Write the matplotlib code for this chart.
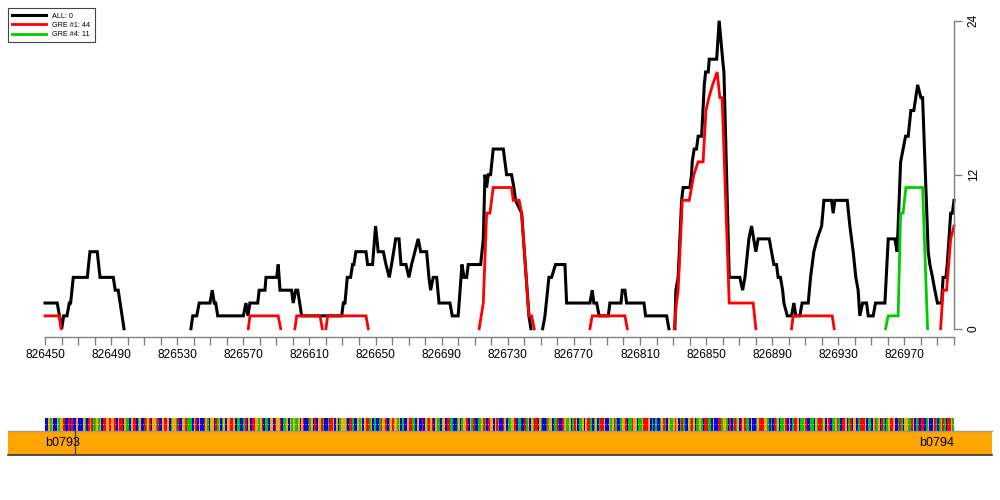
import numpy as np
import matplotlib
matplotlib.use('Agg')
import matplotlib.pyplot as plt
from matplotlib.patches import Rectangle
import matplotlib.transforms as mtransforms

plt.rcParams['font.family'] = ['Liberation Sans', 'DejaVu Sans']

START, END = 826450, 827000
N = None

# ---- coverage series (position offset from START, value); None = gap ----
all_pos = [0, 7.4, 10.1, 11.3, 13.3, 14.7, 15.5, 17.1, 25.6, 27.2, 31.6, 33.3, 41.3, 42.5, 44.3, 47.8, N,
           88.3, 89.4, 91.8, 93.3, 99.8, 101.2, 102.4, 103.3, 104.5, 120, 121.6, 122.8, 124, 128.7, 129.6,
           133.1, 133.7, 140.2, 141.1, 142.2, 149.2, 150.2, 151.7, 152.9, 155.3, 179.5, 180.5, 181.5, 182.9,
           184.9, 186.1, 186.9, 188.1, 194.2, 195.2, 198.2, 200, 201.6, 204.7, 206.3, 208.3, 209.7, 212.2,
           214.2, 215.4, 218.4, 220.2, 221.8, 223.8, 225.8, 227.3, 230.9, 232.3, 233.3, 234.9, 237, 238.4,
           245, 246.4, 250, 252.3, 253.5, 255.1, 256.1, 263.6, 265.2, 266.2, 267.2, 268.2, 269.6, 271.2,
           277.3, 279.3, 282.3, 283.7, 284.7, 288.4, 292.8, 294, N,
           301.1, 302.5, 304.9, 306.5, 308.9, 314.6, 315.6, 329.7, 331.1, 332.1, 333.8, 335.3, 340.8, 341.8,
           348.5, 349.3, 350.9, 351.9, 362.4, 363.4, 376.1, 377.5, N,
           381.1, 381.7, 383.1, 385.2, 386.1, 390.2, 391.2, 391.6, 392.8, 394.2, 395.2, 397.3, 398.9, 399.7,
           401.3, 401.9, 406.4, 407.9, 410, 410.8, 414, 420.4, 422.1, 423.5, 425.9, 427.5, 430.1, 431.5,
           438.2, 439.6, 441, 442.6, 443.6, 445, 446.3, 447.1, 449.1, 451.7, 453.1, 454.3, 456.7, 458.1,
           461.8, 463.2, 465.2, 467.2, 469.9, 471.3, 475.9, 476.9, 477.9, 485.4, 487, 489, 490.6, 492, 493,
           494.7, 497.1, 498.1, 501.1, 502.5, 508.2, 510.2, 514.2, 515.6, 517.7, 519.2, 520.7, 522.3, 523.9,
           525.7, 528, 530, 531, 534.4, 535.4, 537, 538.4, 540, 542.5, 543.4, 545.1, 545.9, 548, 549, 550]
all_val = [2, 2, 0, 1, 1, 2, 2, 4, 4, 6, 6, 4, 4, 3, 3, 0, N,
           0, 1, 1, 2, 2, 3, 2, 2, 1, 1, 2, 1, 2, 2, 3,
           3, 4, 4, 5, 3, 3, 2, 3, 3, 1, 1, 2, 2, 4,
           4, 5, 5, 6, 6, 5, 5, 8, 6, 6, 5, 4, 5, 7,
           7, 5, 5, 4, 5, 6, 7, 6, 6, 4, 3, 4, 4, 2,
           2, 1, 1, 5, 4, 4, 5, 5, 7, 12, 11, 12, 12, 14,
           14, 12, 12, 11, 10, 9, 1, 0, N,
           0, 1, 4, 4, 5, 5, 2, 2, 3, 2, 2, 1, 1, 2,
           2, 3, 3, 2, 2, 1, 1, 0, N,
           0, 3, 4, 10, 11, 11, 12, 13, 14, 14, 15, 15, 19, 20,
           20, 21, 21, 24, 21, 20, 4, 4, 3, 4, 7, 8, 6, 7,
           7, 6, 5, 5, 4, 4, 3, 2, 1, 1, 2, 1, 1, 2,
           2, 4, 6, 7, 8, 10, 10, 9, 10, 10, 8, 6, 4, 3, 1,
           2, 2, 1, 1, 2, 2, 7, 7, 6, 13, 14, 15, 15, 17,
           17, 19, 18, 18, 6, 5, 4, 3, 2, 2, 4, 4, 5, 9, 9, 10]

gre1_pos = [0, 8.7, 9.7, N,
            123, 124, 141.1, 142.6, N,
            151.2, 152.3, 166.4, 167.8, N,
            170, 171, 194.2, 195.6, N,
            262.7, 265.2, 267.2, 269.2, 271.2, 282.3, 283.3, 286.9, 288.4, 292.8, 294.4, 296, N,
            329.7, 331.1, 350.9, 352.3, N,
            380.7, 382.1, 383.1, 385.6, 389.8, 391.2, 392.6, 395.2, 398.2, 399.9, 401.7, 403.9, 406.7,
            408.3, 409.7, 414, 428.5, 430.1, N,
            451.7, 452.7, 476.3, 477.5, N,
            541.9, 543.4, 545.5, 548, 550]
gre1_val = [1, 1, 0, N,
            0, 1, 1, 0, N,
            0, 1, 1, 0, N,
            0, 1, 1, 0, N,
            0, 2, 9, 9, 11, 11, 10, 10, 9, 1, 1, 0, N,
            0, 1, 1, 0, N,
            0, 2, 3, 10, 10, 11, 12, 13, 13, 17, 18, 19, 20,
            18, 18, 2, 2, 0, N,
            0, 1, 1, 0, N,
            0, 3, 3, 7, 8]

gre4_pos = [508.6, 510.2, 516.2, 517.7, 519.2, 520.9, 531, 534]
gre4_val = [0, 1, 1, 9, 9, 11, 11, 0]

series_names = ['ALL', 'GRE #1', 'GRE #4']
series_counts = [0, 44, 11]
series_colors = ['#000000', '#FF0000', '#00CD00']
series_widths = [2.2, 2.0, 2.0]

y_ticks = [0, 12, 24]

# ---- sequence & genes ----
seq_groups = [
    "CCGAGCCGAG", "GTCCTCTCCG", "CCCGACTGTA", "AGAGCTTGGT", "GGTCGTTCGA",
    "ACGTTCAGCC", "TAGTCGGATC", "CGTTGCAGGA", "TCCGGTAAAC", "GTCGCCTGAC",
    "GGCTAGCAGC", "GGTTGCAACC", "ATCGCTTGGA", "GTCAACGGCT", "GGTCAAGCGA",
    "GAAGCGTCCT", "AGCTCGGTAC", "CATTGCGCAG", "GGACTTACCG", "AGCGTTAGCA",
    "CCATGGTCAG", "TGGAGCACCG", "TTAACGCCTC", "GATGTCGAAC", "GGCTTAACCA",
    "GCAGGTCGAT", "CCAAGTACTG", "GCGTACCTGC", "AAGGTCAACC", "TAGCGATTCG",
    "ACCTAGGCAA", "TCCTGAAGCA", "TGCAAGCGTT", "ACAGCATTGC", "CGAGTACCAG",
    "GTCAATGGCA", "AGTTTGCACA", "CCAGTACGAA", "GTGCATACCG", "ATGCAAGACT",
    "TAACGCCTTA", "GGACTCATAG", "CTGTAACGCC", "AGTTTGGACA", "CTAGCAAGTC",
    "GCATTGCAAG", "TCCAACGATT", "AGCGTCAAGT", "ACTTGCATCG", "GCATTTGCAA",
    "CGTAGCTACA", "GTTGCCATAC", "GGAATGCATC", "TTCAGCCGTA", "CAGTACTTGA",
]
base_colors = {'A': '#00C800', 'C': '#0000FF', 'G': '#FFA500', 'T': '#FF0000'}
gene_names = ['b0793', 'b0794']
gene_boundary = 826468

# ---------------------------------------------------------------
fig = plt.figure(figsize=(10, 5), dpi=100)
ax = fig.add_axes([0.045, 1 - 328.7 / 500, 0.909, 308 / 500])
ax.set_xlim(START, END)
ax.set_ylim(0, 24)

series = [(all_pos, all_val), (gre1_pos, gre1_val), (gre4_pos, gre4_val)]
handles = []
for (p, v), name, cnt, col, lw in zip(series, series_names, series_counts, series_colors, series_widths):
    x = START + np.array(p, dtype=float)
    y = np.array(v, dtype=float)
    h, = ax.plot(x, y, color=col, lw=lw, clip_on=False, solid_joinstyle='miter',
                 label=f'{name}: {cnt}')
    handles.append(h)

for s in ['top', 'left']:
    ax.spines[s].set_visible(False)
ax.spines['bottom'].set_position(('outward', 5.76))
for s in ['bottom', 'right']:
    ax.spines[s].set_color('#808080')
    ax.spines[s].set_linewidth(1)

xt = np.arange(START, END + 1, 10)
ax.set_xticks(xt)
ax.set_xticklabels([str(t) if (t - START) % 40 == 0 else '' for t in xt])
ax.tick_params(axis='x', direction='out', length=5.8, width=1, color='#808080',
               pad=2.9, labelsize=8.6)
ax.yaxis.tick_right()
ax.set_yticks(y_ticks)
ax.set_yticklabels([str(t) for t in y_ticks], rotation=90, va='center')
ax.tick_params(axis='y', direction='out', length=5.8, width=1, color='#808080',
               pad=4, labelsize=8.6)

leg = fig.legend(handles=handles, loc='upper left', bbox_to_anchor=(0.008, 1 - 8.3 / 500),
                 bbox_transform=fig.transFigure, fontsize=5.2, handlelength=4.7,
                 handletextpad=0.8, labelspacing=0.3, borderpad=0.6, borderaxespad=0,
                 frameon=True, fancybox=False, edgecolor='#444444', framealpha=1)
leg.get_frame().set_linewidth(0.8)

# ---- bottom track ----
ax2 = fig.add_axes([0.045, 1 - 455 / 500, 0.909, 37 / 500])
ax2.set_xlim(START, END)
ax2.set_ylim(0, 37)
ax2.axis('off')

seq = ''.join(seq_groups)[:END - START]
cols = [base_colors[b] for b in seq]
ax2.bar(START + np.arange(len(seq)), 13, width=1, bottom=24, color=cols,
        align='edge', linewidth=0)
ax2.plot([START, START + len(seq)], [31, 31], color='white', lw=0.6, ls=(0, (1, 2)), alpha=0.8)

trans = mtransforms.blended_transform_factory(fig.transFigure, ax2.transData)
ax2.add_patch(Rectangle((0.008, 0), 0.984, 24, transform=trans, facecolor='#FFA500',
                        edgecolor='none', clip_on=False))
ax2.plot([0.008, 0.992], [24, 24], transform=trans, color='#999999', lw=1, clip_on=False)
ax2.plot([0.008, 0.992], [0, 0], transform=trans, color='#333333', lw=1.2, clip_on=False)
ax2.plot([gene_boundary, gene_boundary], [0, 24], color='#444444', lw=1)
ax2.text(START, 12, gene_names[0], ha='left', va='center', fontsize=9)
ax2.text(END, 12, gene_names[1], ha='right', va='center', fontsize=9)

fig.savefig('out.png', dpi=100)
